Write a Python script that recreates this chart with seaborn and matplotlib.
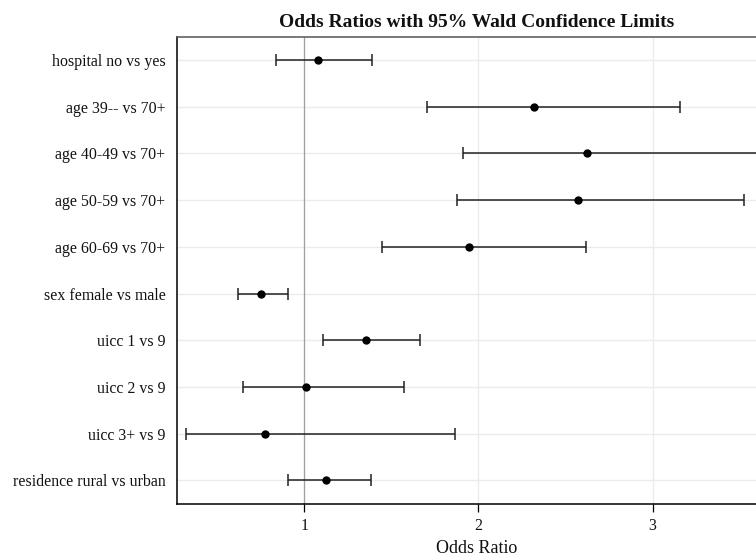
import numpy as np
import pandas as pd
import seaborn as sns
import matplotlib.pyplot as plt

# odds ratios
labels = ["hospital no vs yes", "age 39-- vs 70+", "age 40-49 vs 70+", "age 50-59 vs 70+",
          "age 60-69 vs 70+", "sex female vs male", "uicc 1 vs 9", "uicc 2 vs 9",
          "uicc 3+ vs 9", "residence rural vs urban"]
odds = [1.079, 2.317, 2.625, 2.571, 1.944, 0.751, 1.354, 1.009, 0.775, 1.123]
lower = [0.835, 1.706, 1.914, 1.876, 1.446, 0.619, 1.106, 0.649, 0.323, 0.909]
upper = [1.390, 3.156, 3.650, 3.524, 2.617, 0.907, 1.662, 1.570, 1.868, 1.381]

df = pd.DataFrame({"effect": labels, "odds": odds, "lower": lower, "upper": upper})
df["pos"] = np.arange(len(df))

sns.set_style("white")
plt.rcParams["font.family"] = ["Liberation Serif", "DejaVu Serif"]
plt.rcParams["text.color"] = "#111111"
plt.rcParams["axes.labelcolor"] = "#111111"
plt.rcParams["xtick.color"] = "#111111"
plt.rcParams["ytick.color"] = "#111111"

fig = plt.figure(figsize=(7.56, 5.58), dpi=100)
# the plot area runs past the right edge of the figure, as in the original
ax = fig.add_axes([0.2337, 0.0973, 0.7927, 0.8369])

ax.set_xlim(0.2675, 3.708)
ax.set_ylim(9.5, -0.5)

ax.grid(True, color="#ebebeb", linewidth=1.0)
ax.set_axisbelow(True)
ax.axvline(1, color="#a0a0a0", linewidth=0.9, zorder=1)

ax.errorbar(df["odds"], df["pos"],
            xerr=[df["odds"] - df["lower"], df["upper"] - df["odds"]],
            fmt="none", ecolor="#222222", elinewidth=1.1, capsize=4.2, capthick=1.1, zorder=2)
sns.scatterplot(data=df, x="odds", y="pos", color="black", s=36, edgecolor="black",
                linewidth=0, zorder=3, ax=ax)

ax.set_yticks(df["pos"])
ax.set_yticklabels(df["effect"], fontsize=11.4)
ax.set_xticks([1, 2, 3])
ax.set_xticklabels(["1", "2", "3"], fontsize=11.4)
ax.tick_params(axis="y", length=0, pad=8)
ax.tick_params(axis="x", length=5.5, width=0.9, color="black", pad=5, bottom=True)

ax.set_xlabel("Odds Ratio", fontsize=13, labelpad=4)
ax.set_ylabel("")
ax.set_title("Odds Ratios with 95% Wald Confidence Limits", fontsize=14,
             fontweight="bold", pad=7)

for side in ["left", "bottom"]:
    ax.spines[side].set_color("black")
    ax.spines[side].set_linewidth(1.1)
ax.spines["top"].set_color("#555555")
ax.spines["top"].set_linewidth(1.1)
ax.spines["right"].set_visible(False)

fig.savefig("out.png", dpi=100)
